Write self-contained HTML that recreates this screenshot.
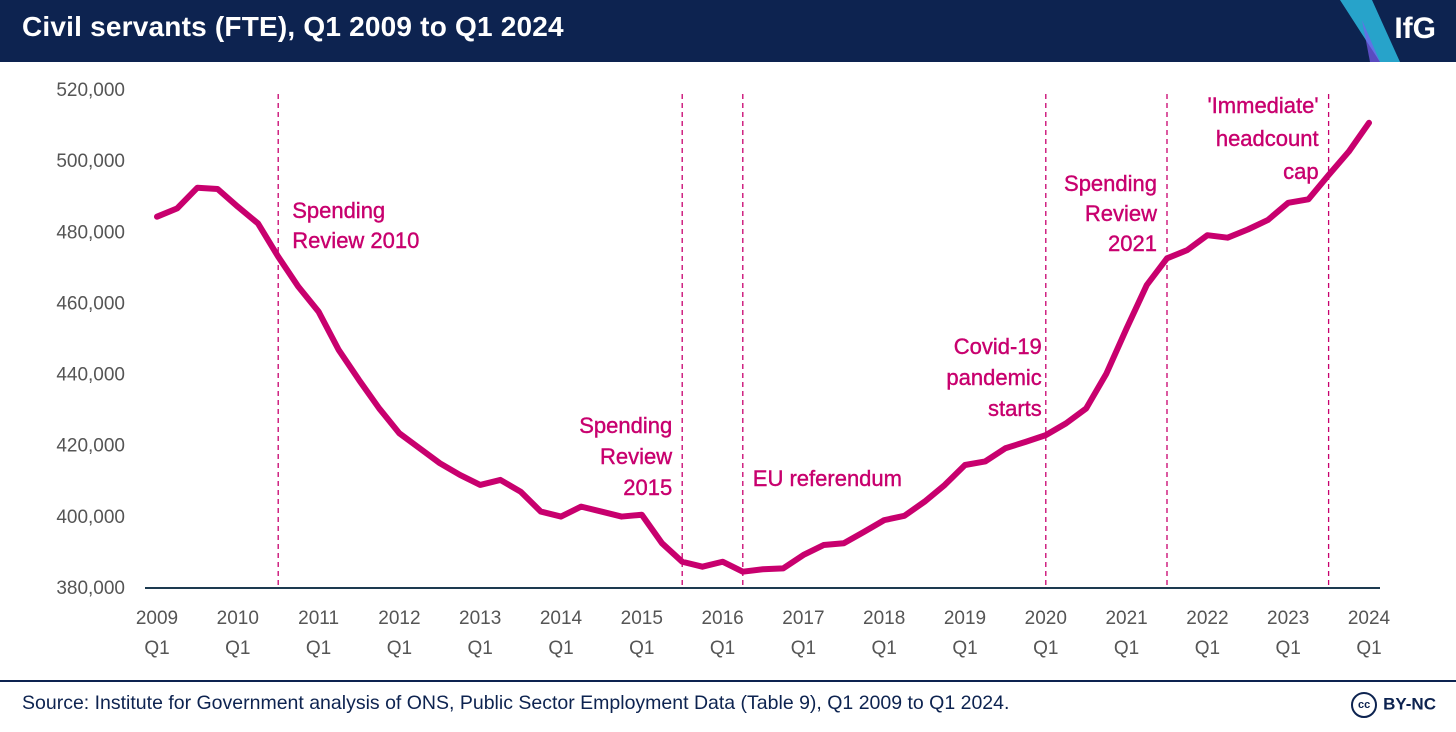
<!DOCTYPE html>
<html><head><meta charset="utf-8">
<style>
body{margin:0;width:1456px;height:732px;background:#fff;font-family:"Liberation Sans",sans-serif;overflow:hidden;position:relative}
#hdr{position:absolute;left:0;top:0;width:1456px;height:62px;background:#0d2350}
#title{position:absolute;left:22px;top:11px;color:#fff;font-size:28px;font-weight:bold;letter-spacing:0.2px}
#logo{position:absolute;right:20px;top:12px;color:#fff;font-size:30px;font-weight:bold}
#src{position:absolute;left:22px;top:692px;font-size:19.5px;color:#0d2350}
#rule{position:absolute;left:0;top:680px;width:1456px;height:2px;background:#0d2350}
#cc{position:absolute;right:20px;top:692px;font-size:17px;font-weight:bold;color:#0d2350}
</style></head><body>
<div id="hdr">
<svg width="1456" height="62" style="position:absolute;left:0;top:0"><polygon points="1340,0 1372,0 1400,62 1380,62" fill="#2ec3e8" opacity="0.8"/><polygon points="1362,20 1380,62 1370,62" fill="#7a5cf0" opacity="0.7"/></svg>
<div id="title">Civil servants (FTE), Q1 2009 to Q1 2024</div>
<div id="logo">IfG</div>
</div>
<svg id="chart" width="1456" height="680" style="position:absolute;left:0;top:0"></svg>
<div id="rule"></div>
<div id="src">Source: Institute for Government analysis of ONS, Public Sector Employment Data (Table 9), Q1 2009 to Q1 2024.</div>
<div id="cc"><span style="display:inline-block;width:22px;height:22px;border:2.5px solid #0d2350;border-radius:50%;font-size:11px;text-align:center;line-height:22px;vertical-align:middle;margin-right:6px">cc</span>BY-NC</div>
<script>
const yTicks=[380000,400000,420000,440000,460000,480000,500000,520000];
const yearLabels=["2009","2010","2011","2012","2013","2014","2015","2016","2017","2018","2019","2020","2021","2022","2023","2024"];
const values=[484100,486450,492250,491900,486900,482200,472850,464400,457400,446600,438200,430200,423200,419000,414800,411500,408700,410100,406800,401200,399800,402600,401200,399800,400300,392300,387100,385700,387100,384300,385000,385250,389000,391800,392300,395500,398800,400000,404000,408700,414300,415300,419000,420800,422700,426000,430200,440000,452700,464900,472400,474700,478900,478200,480500,483200,488000,489000,495800,502400,510500];
const eventIdx=[6,26,29,44,50,58];
const eventLabels=[["Spending","Review 2010"],["Spending","Review","2015"],["EU referendum"],["Covid-19","pandemic","starts"],["Spending","Review","2021"],["'Immediate'","headcount","cap"]];
const NS="http://www.w3.org/2000/svg";
const svg=document.getElementById('chart');
const x=i=>157+i*(1369-157)/60;
const y=v=>587-(v-380000)*(587-89)/140000;
function mk(t,a){const e=document.createElementNS(NS,t);for(const k in a)e.setAttribute(k,a[k]);svg.appendChild(e);return e;}
yTicks.forEach(v=>{const t=mk('text',{x:125,y:y(v)+7,'text-anchor':'end','font-size':19,fill:'#555'});t.textContent=v.toLocaleString('en-GB');

});
const ax=mk('line',{x1:145,x2:1380,y1:588,y2:588,stroke:'#1d3a50','stroke-width':2});


yearLabels.forEach((l,k)=>{const xx=x(k*4);
const t=mk('text',{x:xx,y:624,'text-anchor':'middle','font-size':19,fill:'#555'});t.textContent=l;


const q=mk('text',{x:xx,y:654,'text-anchor':'middle','font-size':19,fill:'#555'});q.textContent='Q1';

});
const C='#c8006e';
const labelPos=[{dx:14,y0:218,a:'start',lh:30},{dx:-10,y0:433,a:'end',lh:31},{dx:10,y0:486,a:'start',lh:31},{dx:-4,y0:354,a:'end',lh:31},{dx:-10,y0:191,a:'end',lh:30},{dx:-10,y0:113,a:'end',lh:33}];
eventIdx.forEach((ix,k)=>{const xx=x(ix);
const l=mk('line',{x1:xx,x2:xx,y1:94,y2:587,stroke:C,'stroke-width':1.3,'stroke-dasharray':'5,4'});


const p=labelPos[k];
const t=mk('text',{x:xx+p.dx,y:p.y0,'text-anchor':p.a,'font-size':22,fill:C,'stroke':C,'stroke-width':0.4});


eventLabels[k].forEach((s,j)=>{const ts=document.createElementNS(NS,'tspan');ts.setAttribute('x',xx+p.dx);ts.setAttribute('dy',j?p.lh:0);ts.textContent=s;t.appendChild(ts);});});
const path=mk('polyline',{points:values.map((v,i)=>x(i)+','+y(v)).join(' '),fill:'none',stroke:C,'stroke-width':6,'stroke-linejoin':'round','stroke-linecap':'round'});


</script>
</body></html>
